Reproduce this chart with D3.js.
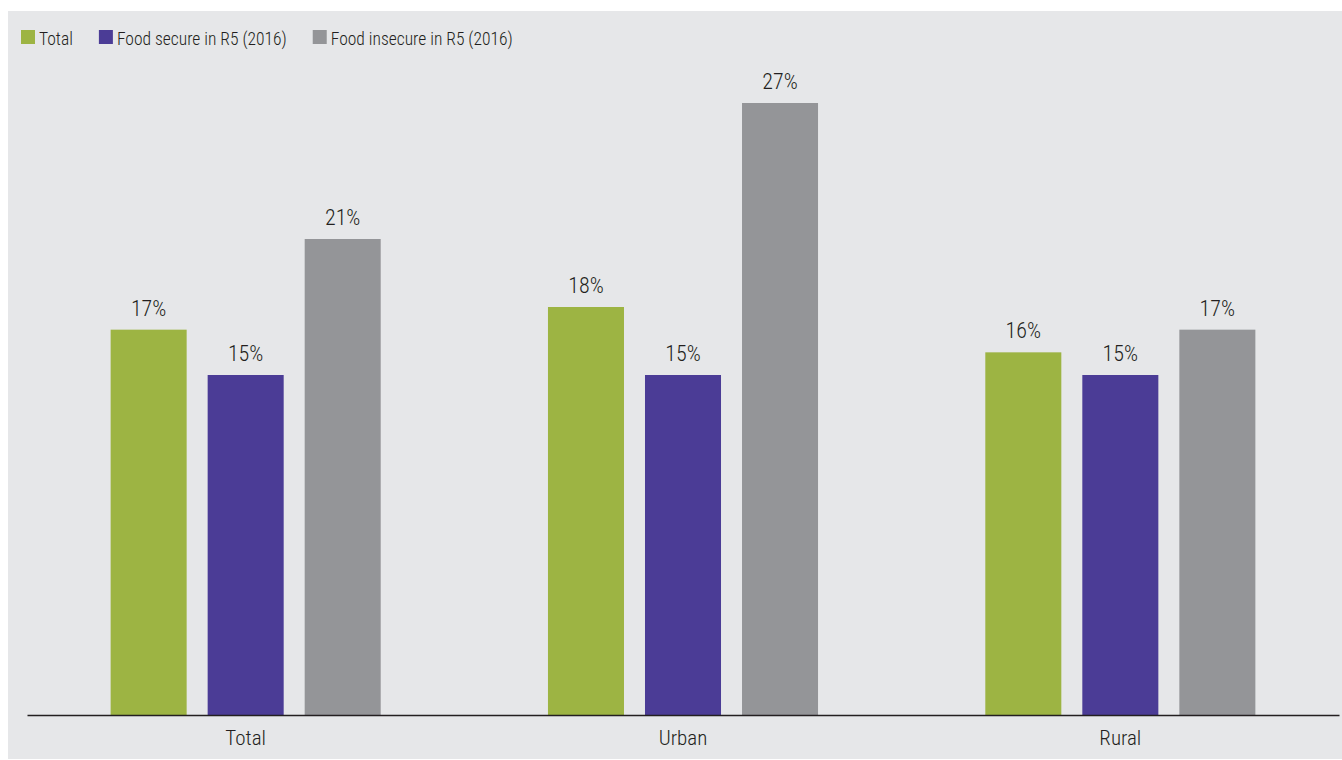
<!DOCTYPE html>
<html>
<head>
<meta charset="utf-8">
<script src="https://cdn.jsdelivr.net/npm/d3@7"></script>
<style>
  body { margin: 0; background: #fff; }
  text { font-family: "Liberation Sans Narrow", "Roboto Condensed", Roboto, sans-serif; fill: #231f20; font-weight: 300; }
</style>
</head>
<body>
<div id="chart"></div>
<script>
// data
const categories = ["Total", "Urban", "Rural"]
const seriesNames = ["Total", "Food secure in R5 (2016)", "Food insecure in R5 (2016)"]
const totalValues = [17, 18, 16]
const secureValues = [15, 15, 15]
const insecureValues = [21, 27, 17]
const colors = ["#9db443", "#4b3c96", "#949598"]

const width = 1342
const height = 760
const margin = {left: 27, right: 3, top: 103, bottom: 45}
const allSeries = [totalValues, secureValues, insecureValues]

const svg = d3.select("#chart").append("svg")
  .attr("width", width)
  .attr("height", height)

// panel background
svg.append("rect")
  .attr("x", 8)
  .attr("y", 11)
  .attr("width", width - 8)
  .attr("height", height - 12)
  .attr("fill", "#e6e7e9")

const x0 = d3.scaleBand()
  .domain(categories)
  .range([margin.left, width - margin.right])
  .padding(0)

const x1 = d3.scaleBand()
  .domain(seriesNames)
  .range([0, x0.bandwidth()])
  .paddingInner(0.2165)
  .paddingOuter(0.862)

const y = d3.scaleLinear()
  .domain([0, 27])
  .range([height - margin.bottom, margin.top])

const rows = []
categories.forEach((c, i) => {
  seriesNames.forEach((s, j) => {
    rows.push({cat: c, series: s, value: allSeries[j][i], color: colors[j]})
  })
})

const bars = svg.append("g")
bars.selectAll("rect")
  .data(rows)
  .enter()
  .append("rect")
  .attr("x", d => x0(d.cat) + x1(d.series))
  .attr("y", d => y(d.value))
  .attr("width", x1.bandwidth())
  .attr("height", d => y(0) - y(d.value))
  .attr("fill", d => d.color)

bars.selectAll("text")
  .data(rows)
  .enter()
  .append("text")
  .attr("x", d => x0(d.cat) + x1(d.series) + x1.bandwidth() / 2)
  .attr("y", d => y(d.value) - 14)
  .attr("text-anchor", "middle")
  .attr("font-size", 22)
  .text(d => d.value + "%")

// x axis
const xAxis = svg.append("g")
  .attr("transform", `translate(0,${y(0)})`)
  .call(d3.axisBottom(x0).tickSize(0).tickPadding(15))
xAxis.select(".domain").attr("stroke", "#231f20").attr("stroke-width", 1.5)
xAxis.attr("font-family", null).attr("font-size", null)
xAxis.selectAll("text")
  .attr("font-size", 21)
  .attr("fill", "#231f20")

// legend
const legend = svg.append("g")
let lx = 21
seriesNames.forEach((s, j) => {
  const item = legend.append("g").attr("transform", `translate(${lx},30)`)
  item.append("rect")
    .attr("width", 14)
    .attr("height", 14)
    .attr("fill", colors[j])
  const t = item.append("text")
    .attr("x", 18)
    .attr("y", 14.5)
    .attr("font-size", 17.5)
    .text(s)
  lx += 18 + t.node().getComputedTextLength() + 26
})
</script>
</body>
</html>
